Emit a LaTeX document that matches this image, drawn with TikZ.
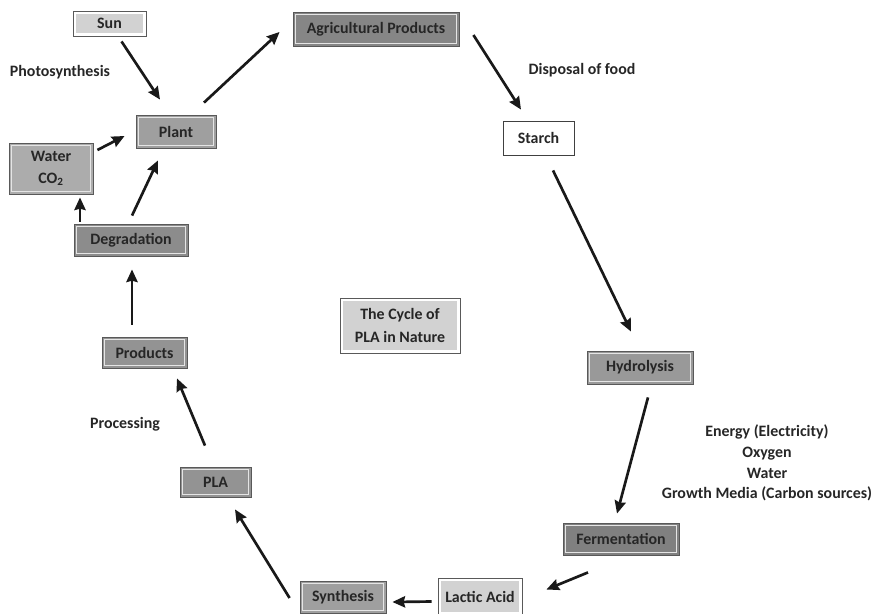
\documentclass[tikz,border=0pt]{standalone}
\usepackage{fontspec}
\setmainfont{Carlito}
\usetikzlibrary{arrows.meta,positioning,calc}
\newlength\unitpx
\setlength\unitpx{0.025cm}
\tikzset{
  stage/.style={rectangle, draw=black!65, line width=0.6pt, fill=#1,
    text=black!85, font=\bfseries\fontsize{11.3}{15}\selectfont, align=center,
    inner sep=0pt,
    path picture={\draw[white!80!gray, line width=0.9pt]
      ([shift={(1.6pt,1.6pt)}]path picture bounding box.south west) rectangle
      ([shift={(-1.6pt,-1.6pt)}]path picture bounding box.north east);}},
  stage/.default=gray!80,
  pale/.style={rectangle, draw=black!65, line width=0.6pt, fill=white,
    text=black!85, font=\bfseries\fontsize{11.3}{16}\selectfont, align=center,
    inner sep=0pt,
    path picture={\fill[gray!35]
      ([shift={(2.4pt,2.4pt)}]path picture bounding box.south west) rectangle
      ([shift={(-2.4pt,-2.4pt)}]path picture bounding box.north east);}},
  plain/.style={rectangle, draw=black!75, line width=0.6pt, fill=white,
    text=black!85, font=\bfseries\fontsize{11.3}{15}\selectfont, inner sep=0pt},
  note/.style={text=black!85, font=\bfseries\fontsize{11.3}{14.8}\selectfont,
    align=center, inner sep=0pt},
  size/.style 2 args={minimum width=#1\unitpx, minimum height=#2\unitpx}
}

\begin{document}
\begin{tikzpicture}[x=0.025cm, y=-0.025cm]

\tikzset{
toarr/.style={-{Stealth[length=9pt, width=8pt, inset=1pt]}, line width=1.9pt, black!90}
}

\useasboundingbox (0,0) rectangle (879,613);

%TOP ROW
\node[pale, size={73}{25}] (sun) at (109.5,23.5) {Sun};
\node[stage=gray!95, size={166}{34}] (agri) at (376,29) {Agricultural Products};
\node[plain, size={71}{34}] (starch) at (538.5,138) {Starch};

%LEFT SIDE
\node[stage=gray!75, size={80}{33}] (plant) at (176,131.5) {Plant};
\node[stage=gray!65, size={84}{51}] (water) at (51,168.5) {Water\\CO\textsubscript{2}};
\node[stage=gray!90, size={114}{32}] (degr) at (131,240) {Degradation};
\node[stage=gray!85, size={85}{31}] (products) at (144.5,352.5) {Products};
\node[stage=gray!85, size={71}{30}] (pla) at (215.5,482) {PLA};

%RIGHT SIDE
\node[stage=gray!80, size={106}{33}] (hydro) at (640,367.5) {Hydrolysis};
\node[stage=gray, size={116}{32}] (ferm) at (621,539) {Fermentation};

%BOTTOM ROW
\node[pale, size={84}{37}] (lactic) at (480,596.5) {Lactic Acid};
\node[stage=gray!75, size={86}{32}] (synth) at (343,597) {Synthesis};

%CENTRE
\node[pale, size={120}{55}] (cycle) at (400,325.5) {The Cycle of\\PLA in Nature};

%LABELS
\node[note] (photo) at (60,72) {Photosynthesis};
\node[note] (disposal) at (582,70) {Disposal of food};
\node[note] (processing) at (125,424) {Processing};
\node[note] (inputs) at (767,463) {Energy (Electricity)\\Oxygen\\Water\\Growth Media (Carbon sources)};

%ARROWS
\draw[toarr] ($(sun.south)+(12,5)$) -- ($(plant.north)+(-16,-15)$);
\draw[toarr] ($(plant.north)+(28,-12)$) -- ($(agri.west)+(-13,3)$);
\draw[toarr] ($(agri.east)+(14,6)$) -- ($(starch.north)+(-17.5,-11)$);
\draw[toarr] ($(starch.south)+(14.5,15)$) -- ($(hydro.north)+(-9,-19)$);
\draw[toarr] ($(hydro.south)+(8,13)$) -- ($(ferm.north)+(-4,-9)$);
\draw[toarr] ($(ferm.south)+(-33,17)$) -- ($(lactic.east)+(24,-7)$);
\draw[toarr] ($(lactic.west)+(-6,5)$) -- ($(synth.east)+(6,5)$);
\draw[toarr] ($(synth.west)+(-10,1)$) -- ($(pla.south)+(19.5,12)$);
\draw[toarr] ($(pla.north)+(-10.5,-21)$) -- ($(products.south)+(32.5,10)$);
\draw[toarr] ($(products.north)+(-12.5,-12)$) -- ($(degr.south)+(1,13)$);
\draw[toarr] ($(degr.north)+(-51,-2)$) -- ($(water.south)+(29,3)$);
\draw[toarr] ($(degr.north)+(1,-8)$) -- ($(plant.south)+(-18,12)$);
\draw[toarr] ($(water.east)+(4,-18.5)$) -- ($(plant.west)+(-11,4.5)$);

\end{tikzpicture}
\end{document}
